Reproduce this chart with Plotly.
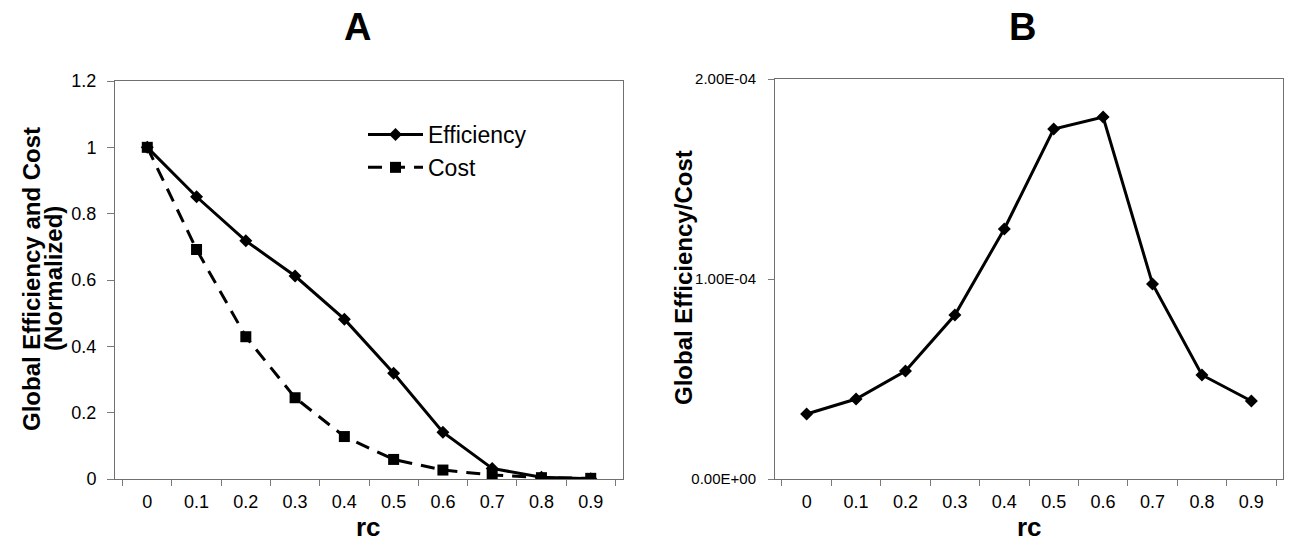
import plotly.graph_objects as go

rc = ["0", "0.1", "0.2", "0.3", "0.4", "0.5", "0.6", "0.7", "0.8", "0.9"]
efficiency = [1.00, 0.851, 0.718, 0.612, 0.482, 0.319, 0.141, 0.032, 0.005, 0.001]
cost = [1.00, 0.692, 0.429, 0.245, 0.128, 0.059, 0.027, 0.012, 0.004, 0.002]
eff_per_cost = [3.25e-5, 4.0e-5, 5.4e-5, 8.2e-5, 1.25e-4, 1.75e-4, 1.81e-4, 9.75e-5, 5.2e-5, 3.9e-5]
b_tickvals = [0, 1e-4, 2e-4]
b_ticktext = ["0.00E+00", "1.00E-04", "2.00E-04"]

W, H = 1290, 550
def px(x):
    return x / W
def py(y):
    return 1 - y / H

FONT = "Liberation Sans, Arial, sans-serif"

fig = go.Figure()
fig.add_trace(go.Scatter(
    x=rc, y=efficiency, name="Efficiency", mode="lines+markers",
    line=dict(color="black", width=3),
    marker=dict(symbol="diamond", size=10, color="black"),
    xaxis="x", yaxis="y"))
fig.add_trace(go.Scatter(
    x=rc, y=cost, name="Cost", mode="lines+markers",
    line=dict(color="black", width=3, dash="14px,9px"),
    marker=dict(symbol="square", size=11, color="black"),
    xaxis="x", yaxis="y"))
fig.add_trace(go.Scatter(
    x=rc, y=eff_per_cost, name="Efficiency/Cost", mode="lines+markers",
    line=dict(color="black", width=3),
    marker=dict(symbol="diamond", size=10, color="black"),
    xaxis="x2", yaxis="y2", showlegend=False))

axis_common = dict(showline=True, linecolor="#707070", linewidth=1, mirror=True,
                   showgrid=False, zeroline=False, ticks="outside",
                   tickcolor="#7a7a7a", tickwidth=1, automargin=False)

fig.update_layout(
    width=W, height=H, autosize=False,
    margin=dict(l=0, r=0, t=0, b=0, pad=0, autoexpand=False),
    paper_bgcolor="white", plot_bgcolor="white",
    font=dict(family=FONT, color="black"),
    showlegend=True,
    legend=dict(x=px(363), y=py(113), xanchor="left", yanchor="top",
                font=dict(size=23, family=FONT), bgcolor="rgba(0,0,0,0)",
                tracegroupgap=0, itemwidth=55),
    xaxis=dict(domain=[px(115), px(623)], anchor="y", type="category",
               tickson="boundaries", ticklen=6, tickfont=dict(size=18),
               ticklabelstandoff=6, **axis_common),
    yaxis=dict(domain=[py(479), py(81)], anchor="x", range=[0, 1.2], dtick=0.2,
               ticklen=7, tickfont=dict(size=18), ticklabelstandoff=7, **axis_common),
    xaxis2=dict(domain=[px(775), px(1283)], anchor="y2", type="category",
                tickson="boundaries", ticklen=6, tickfont=dict(size=18),
                ticklabelstandoff=6, **axis_common),
    yaxis2=dict(domain=[py(479), py(79)], anchor="x2", range=[0, 2e-4],
                tickvals=b_tickvals, ticktext=b_ticktext,
                ticklen=6, tickfont=dict(size=15), ticklabelstandoff=9, **axis_common),
)

ann = [
    dict(text="<b>A</b>", x=px(357), y=py(27), font=dict(size=38)),
    dict(text="<b>B</b>", x=px(1022), y=py(27), font=dict(size=38)),
    dict(text="<b>rc</b>", x=px(369), y=py(527), font=dict(size=26)),
    dict(text="<b>rc</b>", x=px(1029), y=py(527), font=dict(size=26)),
    dict(text="<b>Global Efficiency and Cost</b>", x=px(31), y=py(279), textangle=-90, font=dict(size=24)),
    dict(text="<b>(Normalized)</b>", x=px(53), y=py(279), textangle=-90, font=dict(size=24)),
    dict(text="<b>Global Efficiency/Cost</b>", x=px(683), y=py(278), textangle=-90, font=dict(size=24)),
]
for a in ann:
    a.update(xref="paper", yref="paper", showarrow=False, xanchor="center", yanchor="middle")
    a["font"] = dict(family=FONT, color="black", **a["font"])
fig.update_layout(annotations=ann)

fig.write_html("out.html")
